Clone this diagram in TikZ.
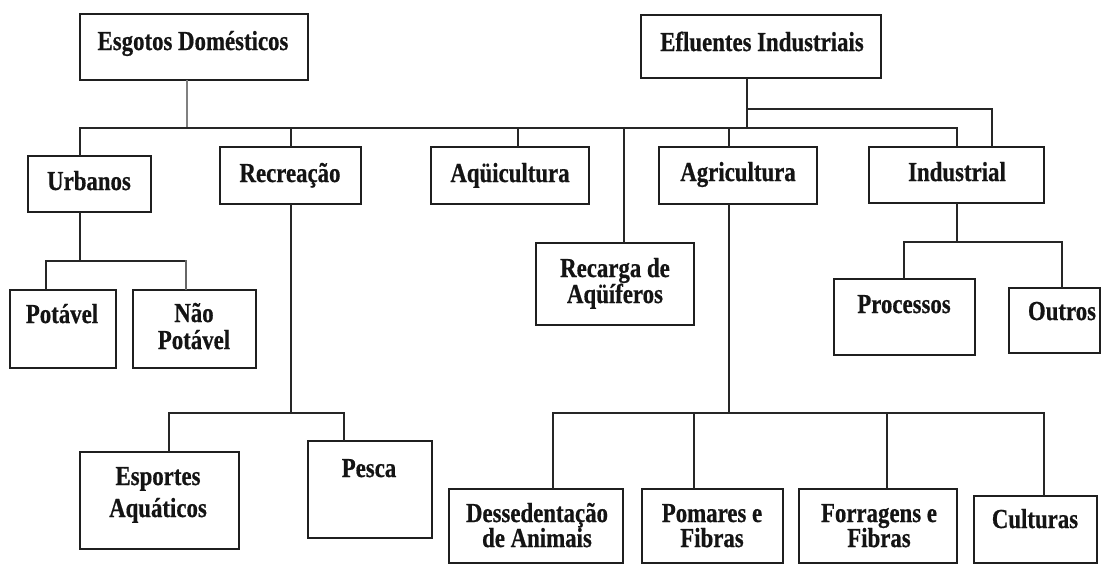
\documentclass[tikz,border=0pt]{standalone}
\usepackage{fontspec}
\newfontfamily\tfont{Liberation Serif}[FakeStretch=0.83,FakeBold=0.6]
\newcommand\mybox[5]{\node[bx, minimum width={(#4-#2)*1pt}, minimum height={(#5-#3)*1pt}] (#1) at ({(#2+#4)/2},{(#3+#5)/2}) {};}
\begin{document}
\begin{tikzpicture}[x=1pt,y=-1pt,
  bx/.style={draw=black!88, line width=1.7pt, inner sep=0pt, fill=white},
  tx/.style={font=\tfont\bfseries\fontsize{27.5}{30}\selectfont, anchor=base, inner sep=0pt, text=black!92},
  ln/.style={line width=1.6pt, draw=black!85, line cap=rect}]
\useasboundingbox[fill=white] (0,0) rectangle (1104,565);

% connectors' end points
\coordinate (bU) at (80,128);
\coordinate (bD) at (187,128);
\coordinate (bR) at (291,128);
\coordinate (bA) at (518,128);
\coordinate (bG) at (624,128);
\coordinate (bAg) at (729,128);
\coordinate (bE) at (747,128);
\coordinate (bI) at (957,128);
\coordinate (bE2) at (747,109);
\coordinate (bI2) at (992,109);

\coordinate (uS) at (80,261);
\coordinate (uP) at (46,261);
\coordinate (uN) at (186,261);
\coordinate (rS) at (291,413);
\coordinate (rE) at (169,413);
\coordinate (rP) at (344,413);
\coordinate (aS) at (729,413);
\coordinate (aD) at (553,413);
\coordinate (aP) at (694,413);
\coordinate (aF) at (887,413);
\coordinate (aC) at (1044,413);
\coordinate (iS) at (957,242);
\coordinate (iP) at (904,242);
\coordinate (iO) at (1062,242);

% boxes
\mybox{esg}{80}{14}{308}{80}
\mybox{efl}{641}{15}{881}{78}
\mybox{urb}{28}{156}{151}{212}
\mybox{rec}{220}{147}{361}{204}
\mybox{aqu}{431}{147}{589}{204}
\mybox{agr}{659}{147}{817}{204}
\mybox{ind}{869}{147}{1044}{203}
\mybox{rga}{536}{243}{694}{325}
\mybox{pot}{10}{290}{116}{368}
\mybox{nao}{133}{290}{256}{368}
\mybox{pro}{834}{279}{975}{355}
\mybox{out}{1009}{288}{1100}{353}
\mybox{esp}{80}{452}{239}{549}
\mybox{pes}{308}{441}{432}{538}
\mybox{des}{449}{489}{623}{563}
\mybox{pom}{642}{489}{783}{563}
\mybox{forr}{799}{489}{957}{563}
\mybox{cul}{974}{496}{1097}{563}

% connectors
\draw[ln, draw=black!50] (esg.south -| bD) -- (bD);
\draw[ln] (bU) -- (bI);
\draw[ln] (efl.south -| bE) -- (bE);
\draw[ln] (bE2) -- (bI2) -- (ind.north -| bI2);
\draw[ln] (bU) -- (urb.north -| bU);
\draw[ln] (bR) -- (rec.north -| bR);
\draw[ln] (bA) -- (aqu.north -| bA);
\draw[ln] (bG) -- (rga.north -| bG);
\draw[ln] (bAg) -- (agr.north -| bAg);
\draw[ln] (bI) -- (ind.north -| bI);

\draw[ln] (urb.south -| uS) -- (uS);
\draw[ln] (pot.north -| uP) -- (uP) -- (uN);
\draw[ln, draw=black!60] (uN) -- (nao.north -| uN);

\draw[ln] (rec.south -| rS) -- (rS);
\draw[ln] (esp.north -| rE) -- (rE) -- (rP) -- (pes.north -| rP);

\draw[ln] (agr.south -| aS) -- (aS);
\draw[ln] (des.north -| aD) -- (aD) -- (aC) -- (cul.north -| aC);
\draw[ln] (aP) -- (pom.north -| aP);
\draw[ln] (aF) -- (forr.north -| aF);

\draw[ln] (ind.south -| iS) -- (iS);
\draw[ln] (pro.north -| iP) -- (iP) -- (iO) -- (out.north -| iO);

% texts
\node[tx] (esgT) at (193,50) {Esgotos Domésticos};
\node[tx] (eflT) at (762,51) {Efluentes Industriais};
\node[tx] (urbT) at (89,190) {Urbanos};
\node[tx] (recT) at (290,182) {Recreação};
\node[tx] (aquT) at (510,182) {Aqüicultura};
\node[tx] (agrT) at (738,181) {Agricultura};
\node[tx] (indT) at (957,181) {Industrial};
\node[tx] (rgaT1) at (615,277) {Recarga de};
\node[tx] (rgaT2) at (615,303) {Aqüíferos};
\node[tx] (potT) at (62,323) {Potável};
\node[tx] (naoT1) at (194,322) {Não};
\node[tx] (naoT2) at (194,349) {Potável};
\node[tx] (proT) at (904,313) {Processos};
\node[tx] (outT) at (1062,320) {Outros};
\node[tx] (espT1) at (158,485) {Esportes};
\node[tx] (espT2) at (158,517) {Aquáticos};
\node[tx] (pesT) at (369,477) {Pesca};
\node[tx] (desT1) at (537,522) {Dessedentação};
\node[tx] (desT2) at (537,547) {de Animais};
\node[tx] (pomT1) at (712,522) {Pomares e};
\node[tx] (pomT2) at (712,547) {Fibras};
\node[tx] (forT1) at (879,522) {Forragens e};
\node[tx] (forT2) at (879,547) {Fibras};
\node[tx] (culT) at (1035,528) {Culturas};
\end{tikzpicture}
\end{document}
